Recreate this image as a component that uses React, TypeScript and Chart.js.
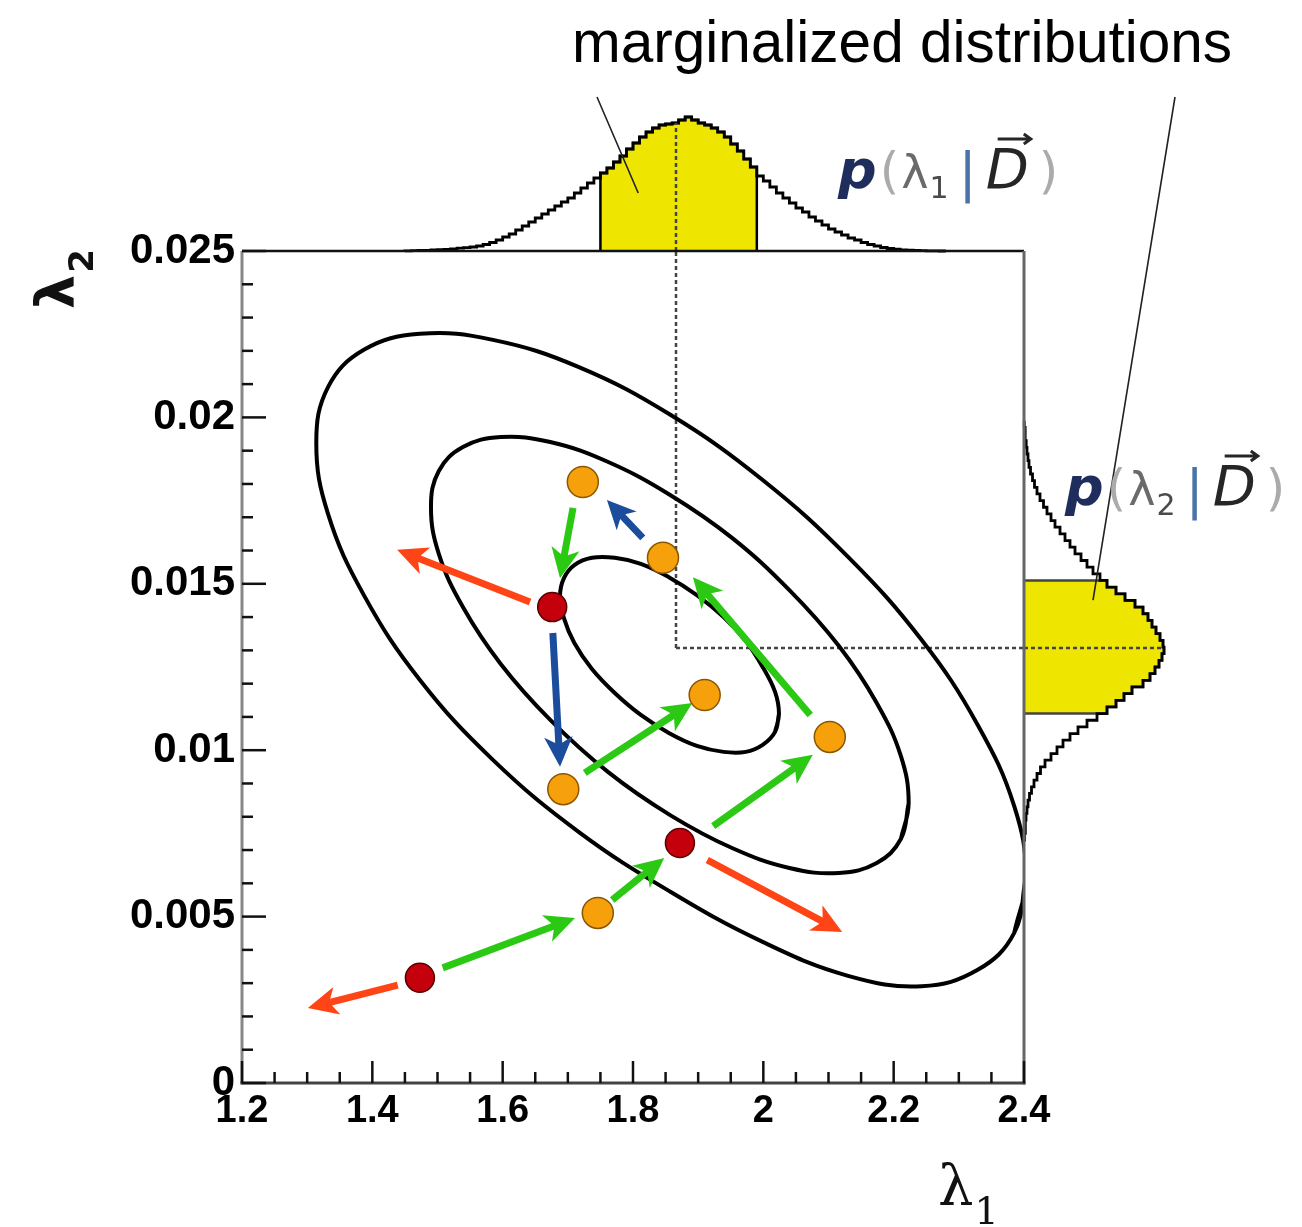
import { useEffect, useRef } from "react";
import { Chart, registerables } from "chart.js";

Chart.register(...registerables);

// ---- joint panel axes -------------------------------------------------------
const X_TICKS = [1.2, 1.4, 1.6, 1.8, 2.0, 2.2, 2.4];
const X_TICK_LABELS = ["1.2", "1.4", "1.6", "1.8", "2", "2.2", "2.4"];
const Y_TICKS = [0, 0.005, 0.01, 0.015, 0.02, 0.025];
const Y_TICK_LABELS = ["0", "0.005", "0.01", "0.015", "0.02", "0.025"];
const X_MINOR_STEP = 0.05;
const Y_MINOR_STEP = 0.001;

// ---- posterior contours (λ1, λ2), inner to outer -----------------------------
const CONTOUR_INNER: [number, number][] = [
  [2.024, 0.01109], [2.018, 0.01055], [1.999, 0.01016], [1.973, 0.00995],
  [1.939, 0.00995], [1.898, 0.01013], [1.855, 0.01052], [1.812, 0.01106],
  [1.772, 0.01172], [1.737, 0.01244], [1.71, 0.01322], [1.694, 0.01397],
  [1.688, 0.01463], [1.694, 0.01517], [1.71, 0.01556], [1.737, 0.01578],
  [1.772, 0.01578], [1.812, 0.0156], [1.855, 0.0152], [1.898, 0.01466],
  [1.939, 0.014], [1.973, 0.01328], [1.999, 0.0125], [2.018, 0.01175],
];
const CONTOUR_MIDDLE: [number, number][] = [
  [2.223, 0.00841], [2.211, 0.00733], [2.174, 0.00661], [2.116, 0.00631],
  [2.04, 0.00646], [1.952, 0.00706], [1.857, 0.00805], [1.762, 0.00934],
  [1.673, 0.01091], [1.597, 0.01259], [1.539, 0.0143], [1.502, 0.0159],
  [1.49, 0.01731], [1.502, 0.01839], [1.539, 0.01911], [1.597, 0.01941],
  [1.673, 0.01926], [1.762, 0.01866], [1.857, 0.01767], [1.952, 0.01638],
  [2.04, 0.01481], [2.116, 0.01313], [2.174, 0.01142], [2.211, 0.00983],
];
const CONTOUR_OUTER: [number, number][] = [
  [2.403, 0.00619], [2.385, 0.00451], [2.329, 0.0034], [2.243, 0.00291],
  [2.13, 0.00322], [1.999, 0.00424], [1.858, 0.00574], [1.717, 0.00754],
  [1.585, 0.00971], [1.473, 0.01211], [1.387, 0.01466], [1.332, 0.0171],
  [1.314, 0.01923], [1.332, 0.02091], [1.387, 0.02203], [1.473, 0.02251],
  [1.585, 0.02233], [1.717, 0.02151], [1.858, 0.02007], [1.999, 0.01812],
  [2.13, 0.01581], [2.243, 0.01331], [2.329, 0.01076], [2.385, 0.00832],
];

// ---- Markov chain states ------------------------------------------------------
const ACCEPTED_STATES: [number, number][] = [
  [1.723, 0.01806], [1.846, 0.01578], [1.91, 0.01166],
  [2.102, 0.0104], [1.693, 0.00883], [1.746, 0.00511],
];
const REJECTED_STATES: [number, number][] = [
  [1.676, 0.0143], [1.872, 0.00721], [1.473, 0.00316],
];

// proposal steps: [λ1 from, λ2 from, λ1 to, λ2 to]
const ACCEPTED_STEPS: [number, number, number, number][] = [
  [1.708, 0.01728, 1.688, 0.01517],
  [1.726, 0.00932, 1.891, 0.01142],
  [2.072, 0.01106, 1.892, 0.0152],
  [1.923, 0.00772, 2.076, 0.00986],
  [1.768, 0.0055, 1.848, 0.00676],
  [1.508, 0.00346, 1.711, 0.00496],
];
const RETURN_STEPS: [number, number, number, number][] = [
  [1.815, 0.01638, 1.76, 0.01752],
  [1.677, 0.01352, 1.688, 0.0095],
];
const REJECTED_STEPS: [number, number, number, number][] = [
  [1.642, 0.01445, 1.438, 0.01602],
  [1.914, 0.0067, 2.121, 0.00454],
  [1.439, 0.00294, 1.301, 0.00225],
];

// ---- marginal histograms -----------------------------------------------------
const LAMBDA1_FIRST_EDGE = 1.45;
const LAMBDA1_BIN_WIDTH = 0.01;
const LAMBDA1_COUNTS = [
  0.2, 0.3, 0.5, 0.7, 1, 1.3, 1.7, 2.2, 2.8, 3.4,
  4, 5, 6.5, 8.5, 11, 14, 17, 21, 25, 29,
  33, 37, 41, 45, 49, 53, 58, 63, 68, 73,
  78, 83, 89, 95, 102, 108, 114, 119, 123, 126,
  127, 128, 131, 134, 131, 128, 126, 123, 119, 114,
  107, 100, 92, 84, 75, 70, 64, 58, 53, 48,
  43, 39, 34, 30, 26, 22, 19, 16, 13, 11,
  8.5, 6.5, 5, 3.5, 2.5, 1.8, 1.2, 0.8, 0.5, 0.3,
  0.2, 0.1, 0,
];
const LAMBDA1_BAND = [1.75, 1.99];

const LAMBDA2_FIRST_EDGE = 0.0073;
const LAMBDA2_BIN_WIDTH = 0.0002;
const LAMBDA2_COUNTS = [
  0.5, 1, 1.5, 2, 3, 4, 5.5, 7.5, 10, 13,
  16.5, 21, 27, 33, 39, 46, 54, 63, 73, 83,
  92, 100, 108, 119, 126, 131, 135, 138, 140, 139,
  136, 132, 128, 124, 119, 111, 101, 92, 83, 76,
  69, 63, 57, 51, 46, 41, 36, 31, 27, 23,
  19.5, 16, 13, 10.5, 8.5, 6.5, 5, 4, 3, 2.2,
  1.5, 1, 0.5,
];
const LAMBDA2_BAND = [0.0111, 0.0151];

// marginal modes
const MODE_LAMBDA1 = 1.866;
const MODE_LAMBDA2 = 0.01307;

// ---- colours ----------------------------------------------------------------
const YELLOW = "#eee600";
const ORANGE = "#f6a10c";
const DARK_RED = "#c4000c";
const GREEN = "#2bc914";
const BLUE = "#1c4d9c";
const RED_ORANGE = "#ff4516";

type P = { x: number; y: number };

const binCenters = (first: number, width: number, n: number) =>
  Array.from({ length: n }, (_, i) => first + (i + 0.5) * width);

function stepOutline(centers: number[], counts: number[], width: number, vertical: boolean): P[] {
  const pt = (pos: number, val: number): P => (vertical ? { x: val, y: pos } : { x: pos, y: val });
  const h = width / 2;
  const out: P[] = [pt(centers[0] - h, 0)];
  centers.forEach((c, i) => {
    out.push(pt(c - h, counts[i]));
    out.push(pt(c + h, counts[i]));
  });
  out.push(pt(centers[centers.length - 1] + h, 0));
  return out;
}

function bandOutline(centers: number[], counts: number[], width: number, band: number[], vertical: boolean): P[] {
  const idx = centers.map((_, i) => i).filter((i) => centers[i] > band[0] && centers[i] < band[1]);
  return stepOutline(idx.map((i) => centers[i]), idx.map((i) => counts[i]), width, vertical);
}

function countAt(centers: number[], counts: number[], width: number, v: number) {
  const i = centers.findIndex((c) => Math.abs(v - c) <= width / 2);
  return i < 0 ? 0 : counts[i];
}

// closed contour: repeat the first two vertices so the spline joins smoothly
const closedLoop = (list: [number, number][]) =>
  [...list, list[0], list[1]].map(([x, y]) => ({ x, y }));

function drawArrow(ctx: CanvasRenderingContext2D, x0: number, y0: number, x1: number, y1: number, color: string) {
  const len = Math.hypot(x1 - x0, y1 - y0);
  const ang = Math.atan2(y1 - y0, x1 - x0);
  const head = Math.min(30, len * 0.55);
  const hw = head * 0.95;
  const shaft = 7;
  ctx.save();
  ctx.translate(x0, y0);
  ctx.rotate(ang);
  ctx.fillStyle = color;
  ctx.beginPath();
  ctx.moveTo(0, -shaft / 2);
  ctx.lineTo(len - head * 0.8, -shaft / 2);
  ctx.lineTo(len - head, -hw / 2);
  ctx.lineTo(len, 0);
  ctx.lineTo(len - head, hw / 2);
  ctx.lineTo(len - head * 0.8, shaft / 2);
  ctx.lineTo(0, shaft / 2);
  ctx.closePath();
  ctx.fill();
  ctx.restore();
}

function drawPosteriorLabel(ctx: CanvasRenderingContext2D, x: number, y: number, sub: string) {
  const parts = [
    { t: "p", f: 'italic bold 54px "DejaVu Sans"', c: "#1f2d5c", dy: 0, gap: 3 },
    { t: "(", f: '50px "DejaVu Sans"', c: "#ababab", dy: 0, gap: 2 },
    { t: "λ", f: '46px "DejaVu Sans"', c: "#6a6a6a", dy: 0, gap: 1 },
    { t: sub, f: '30px "DejaVu Sans"', c: "#4a4a4a", dy: 10, gap: 10 },
    { t: "|", f: '54px "DejaVu Sans"', c: "#4a73a8", dy: 3, gap: 9 },
    { t: "D", f: 'italic 56px "DejaVu Sans"', c: "#262626", dy: 0, gap: 10 },
    { t: ")", f: '50px "DejaVu Sans"', c: "#ababab", dy: 0, gap: 0 },
  ];
  let cx = x;
  ctx.textAlign = "left";
  ctx.textBaseline = "alphabetic";
  for (const p of parts) {
    ctx.font = p.f;
    ctx.fillStyle = p.c;
    ctx.fillText(p.t, cx, y + p.dy);
    const w = ctx.measureText(p.t).width;
    if (p.t === "D") {
      const ay = y - 49;
      ctx.strokeStyle = "#262626";
      ctx.lineWidth = 3;
      ctx.beginPath();
      ctx.moveTo(cx + 12, ay);
      ctx.lineTo(cx + w + 2, ay);
      ctx.moveTo(cx + w - 5, ay - 5);
      ctx.lineTo(cx + w + 2, ay);
      ctx.lineTo(cx + w - 5, ay + 5);
      ctx.stroke();
    }
    cx += w + p.gap;
  }
}

const decorations = {
  id: "decorations",
  beforeDatasetDraw(chart: any, args: any) {
    const ctx: CanvasRenderingContext2D = chart.ctx;
    const ds = chart.data.datasets[args.index];
    if (ds.bandFill) {
      const pts = args.meta.data;
      ctx.save();
      ctx.beginPath();
      pts.forEach((p: any, i: number) => (i ? ctx.lineTo(p.x, p.y) : ctx.moveTo(p.x, p.y)));
      ctx.closePath();
      ctx.fillStyle = ds.bandFill;
      ctx.fill();
      ctx.restore();
    }
    if (ds.label === "states") {
      const sx = chart.scales.x;
      const sy = chart.scales.y;
      const draw = (list: [number, number, number, number][], color: string) =>
        list.forEach(([a, b, c, d]) =>
          drawArrow(ctx, sx.getPixelForValue(a), sy.getPixelForValue(b), sx.getPixelForValue(c), sy.getPixelForValue(d), color)
        );
      draw(ACCEPTED_STEPS, GREEN);
      draw(RETURN_STEPS, BLUE);
      draw(REJECTED_STEPS, RED_ORANGE);
    }
  },
  afterDraw(chart: any) {
    const ctx: CanvasRenderingContext2D = chart.ctx;
    const { left, right, top, bottom } = chart.chartArea;
    const sx = chart.scales.x;
    const sy = chart.scales.y;
    ctx.save();

    const seg = (x0: number, y0: number, x1: number, y1: number, color: string, w: number) => {
      ctx.strokeStyle = color;
      ctx.lineWidth = w;
      ctx.beginPath();
      ctx.moveTo(x0, y0);
      ctx.lineTo(x1, y1);
      ctx.stroke();
    };
    // frame
    seg(left, top, right, top, "#111", 2.5);
    seg(right, top, right, bottom + 1.5, "#666", 3);
    seg(left, top, left, bottom + 1.5, "#888", 3);
    seg(left - 1.5, bottom, right + 1.5, bottom, "#444", 3);

    // tick marks, pointing into the panel
    const isMajor = (v: number, ticks: number[]) => ticks.some((t) => Math.abs(t - v) < 1e-9);
    for (let i = 0; ; i++) {
      const v = X_TICKS[0] + i * X_MINOR_STEP;
      if (v > X_TICKS[X_TICKS.length - 1] + 1e-9) break;
      const px = sx.getPixelForValue(v);
      seg(px, bottom, px, bottom - (isMajor(v, X_TICKS) ? 22 : 11), "#111", 2.5);
    }
    for (let i = 0; ; i++) {
      const v = Y_TICKS[0] + i * Y_MINOR_STEP;
      if (v > Y_TICKS[Y_TICKS.length - 1] + 1e-9) break;
      const py = sy.getPixelForValue(v);
      seg(left, py, left + (isMajor(v, Y_TICKS) ? 24 : 11), py, "#111", 2.5);
    }

    // heading and leader lines
    ctx.fillStyle = "#000";
    ctx.font = '58.5px "Liberation Sans", Arial, sans-serif';
    ctx.textAlign = "left";
    ctx.textBaseline = "alphabetic";
    ctx.fillText("marginalized distributions", 572, 62);

    const sTop = chart.scales.yTop;
    const sRight = chart.scales.xRight;
    ctx.lineWidth = 1.6;
    ctx.strokeStyle = "#222";
    ctx.beginPath();
    ctx.moveTo(597, 97);
    ctx.lineTo(sx.getPixelForValue(1.808), sTop.getPixelForValue(58));
    ctx.moveTo(1175, 97);
    ctx.lineTo(sRight.getPixelForValue(69), sy.getPixelForValue(0.01451));
    ctx.stroke();

    drawPosteriorLabel(ctx, 838, 188, "1");
    drawPosteriorLabel(ctx, 1065, 505, "2");

    // axis titles
    ctx.fillStyle = "#111";
    ctx.font = '56px "DejaVu Serif", serif';
    ctx.fillText("λ", 938, 1205);
    const lw = ctx.measureText("λ").width;
    ctx.font = '38px "DejaVu Serif", serif';
    ctx.fillText("1", 938 + lw + 1, 1224);

    ctx.save();
    ctx.translate(74, 309);
    ctx.rotate(-Math.PI / 2);
    ctx.font = 'bold 54px "DejaVu Sans", sans-serif';
    ctx.fillText("λ", 0, 0);
    const lw2 = ctx.measureText("λ").width;
    ctx.font = 'bold 34px "DejaVu Sans", sans-serif';
    ctx.fillText("2", lw2 + 2, 19);
    ctx.restore();

    ctx.restore();
  },
};

const xy = (list: [number, number][]) => list.map(([x, y]) => ({ x, y }));

export default function App() {
  const canvasRef = useRef<HTMLCanvasElement | null>(null);

  useEffect(() => {
    const canvas = canvasRef.current;
    if (!canvas) return;

    const line = (data: P[], extra: any = {}) => ({
      data,
      showLine: true,
      pointRadius: 0,
      borderColor: "#000",
      borderWidth: 3,
      fill: false,
      tension: 0,
      ...extra,
    });

    const l1Centers = binCenters(LAMBDA1_FIRST_EDGE, LAMBDA1_BIN_WIDTH, LAMBDA1_COUNTS.length);
    const l2Centers = binCenters(LAMBDA2_FIRST_EDGE, LAMBDA2_BIN_WIDTH, LAMBDA2_COUNTS.length);

    const topOutline = stepOutline(l1Centers, LAMBDA1_COUNTS, LAMBDA1_BIN_WIDTH, false);
    const rightOutline = stepOutline(l2Centers, LAMBDA2_COUNTS, LAMBDA2_BIN_WIDTH, true);
    const topBand = bandOutline(l1Centers, LAMBDA1_COUNTS, LAMBDA1_BIN_WIDTH, LAMBDA1_BAND, false);
    const rightBand = bandOutline(l2Centers, LAMBDA2_COUNTS, LAMBDA2_BIN_WIDTH, LAMBDA2_BAND, true);
    const modeTop = countAt(l1Centers, LAMBDA1_COUNTS, LAMBDA1_BIN_WIDTH, MODE_LAMBDA1);
    const modeRight = countAt(l2Centers, LAMBDA2_COUNTS, LAMBDA2_BIN_WIDTH, MODE_LAMBDA2);

    const dotted = { borderColor: "#444", borderWidth: 2.5, borderDash: [4, 3], clip: false, order: 3 };

    const states = [...ACCEPTED_STATES, ...REJECTED_STATES];
    const isAccepted = states.map((_, i) => i < ACCEPTED_STATES.length);

    const chart = new Chart(canvas, {
      type: "scatter",
      data: {
        datasets: [
          {
            label: "states",
            data: xy(states),
            showLine: false,
            pointRadius: isAccepted.map((a) => (a ? 15.5 : 14.5)),
            pointBackgroundColor: isAccepted.map((a) => (a ? ORANGE : DARK_RED)),
            pointBorderColor: isAccepted.map((a) => (a ? "#8a5600" : "#5a0000")),
            pointBorderWidth: 1.5,
            order: 0,
          } as any,
          line(closedLoop(CONTOUR_INNER), { label: "inner", borderWidth: 4, tension: 0.4, order: 2 }),
          line(closedLoop(CONTOUR_MIDDLE), { label: "middle", borderWidth: 4, tension: 0.4, order: 2 }),
          line(closedLoop(CONTOUR_OUTER), { label: "outer", borderWidth: 4, tension: 0.4, order: 2 }),
          line([{ x: MODE_LAMBDA1, y: MODE_LAMBDA2 }, { x: MODE_LAMBDA1, y: 0.025 }], { label: "mode1", ...dotted }),
          line([{ x: MODE_LAMBDA1, y: MODE_LAMBDA2 }, { x: 2.4, y: MODE_LAMBDA2 }], { label: "mode2", ...dotted }),
          line([{ x: MODE_LAMBDA1, y: 0 }, { x: MODE_LAMBDA1, y: modeTop }], { label: "mode1top", yAxisID: "yTop", ...dotted }),
          line([{ x: 0, y: MODE_LAMBDA2 }, { x: modeRight, y: MODE_LAMBDA2 }], { label: "mode2right", xAxisID: "xRight", ...dotted }),
          line(topOutline, { label: "p(λ1|D)", yAxisID: "yTop", clip: false, order: 4, borderWidth: 2.8 }),
          line(rightOutline, { label: "p(λ2|D)", xAxisID: "xRight", clip: false, order: 4, borderWidth: 2.8 }),
          line(topBand, { label: "band1", yAxisID: "yTop", clip: false, order: 5, bandFill: YELLOW, borderWidth: 2.5 }),
          line(rightBand, { label: "band2", xAxisID: "xRight", clip: false, order: 5, bandFill: YELLOW, borderWidth: 2.5, borderColor: "#444" }),
        ],
      },
      options: {
        responsive: false,
        animation: false,
        devicePixelRatio: 1,
        events: [],
        layout: { padding: { left: 42, top: 251, right: 278, bottom: 0 } },
        plugins: { legend: { display: false }, tooltip: { enabled: false } },
        scales: {
          x: {
            type: "linear",
            min: 1.2,
            max: 2.4,
            afterBuildTicks: (s: any) => {
              s.ticks = X_TICKS.map((value) => ({ value }));
            },
            afterFit: (s: any) => {
              s.height = 144;
            },
            ticks: {
              autoSkip: false,
              maxRotation: 0,
              padding: 6,
              color: "#000",
              font: { family: '"Liberation Sans", Arial, sans-serif', size: 38, weight: "bold" },
              callback: (_v: any, i: number) => X_TICK_LABELS[i],
            },
            grid: { display: false, drawTicks: false },
            border: { display: false },
          },
          y: {
            type: "linear",
            min: 0,
            max: 0.025,
            afterBuildTicks: (s: any) => {
              s.ticks = Y_TICKS.map((value) => ({ value }));
            },
            afterFit: (s: any) => {
              s.width = 200;
            },
            ticks: {
              autoSkip: false,
              padding: 7,
              color: "#000",
              font: { family: '"Liberation Sans", Arial, sans-serif', size: 42, weight: "bold" },
              callback: (_v: any, i: number) => Y_TICK_LABELS[i],
            },
            grid: { display: false, drawTicks: false },
            border: { display: false },
          },
          // marginal panels share the joint axes; their count axes sit outside the frame
          yTop: { type: "linear", display: false, min: -832, max: 0 },
          xRight: { type: "linear", display: false, min: -782, max: 0 },
        },
      } as any,
      plugins: [decorations],
    });

    return () => chart.destroy();
  }, []);

  return (
    <div style={{ position: "absolute", left: 0, top: 0, width: 1302, height: 1227, background: "#fff", overflow: "hidden" }}>
      <canvas ref={canvasRef} width={1302} height={1227} style={{ width: 1302, height: 1227, display: "block" }} />
    </div>
  );
}
